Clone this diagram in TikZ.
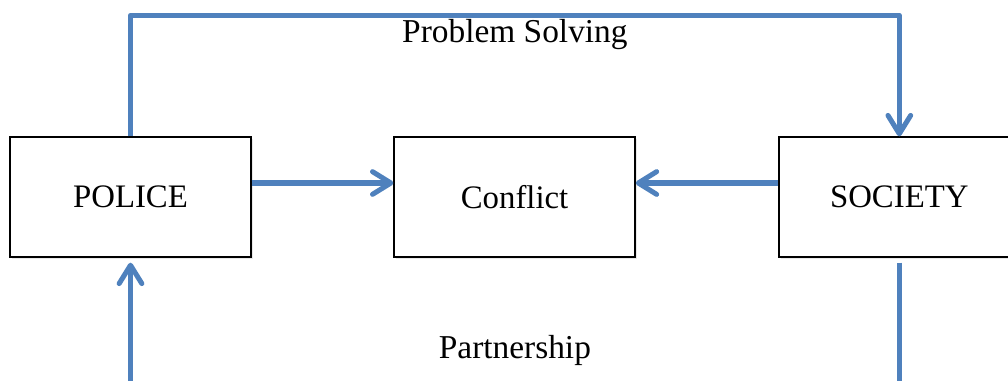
\documentclass[tikz,border=0pt]{standalone}
\usepackage{fontspec}
\setmainfont{Liberation Serif}
\usetikzlibrary{positioning,arrows.meta,shadows}
\definecolor{linkblue}{RGB}{79,129,189}
\tikzstyle{block} = [rectangle, draw, fill=white, line width=1.2pt,
    minimum width=7.23cm, minimum height=3.6cm, font=\fontsize{28}{33}\selectfont,
    drop shadow={opacity=0.18, shadow xshift=0.6mm, shadow yshift=-0.6mm}]
\tikzstyle{link} = [draw=linkblue, line width=4.3pt, line join=round]
\tikzstyle{tag} = [font=\fontsize{28.5}{34}\selectfont, inner sep=0pt]

\begin{document}
\begin{tikzpicture}[>={Straight Barb[length=0.55cm,width=0.68cm,round]}]

    \useasboundingbox (0,0) rectangle (30.24,-11.43);
    \clip (0,0) rectangle (30.24,-11.43);

    % Nodes
    \node [block] (police) at (3.915,-5.91) {POLICE};
    \node [block, right=4.25cm of police] (conflict) {Conflict};
    \node [block, right=4.27cm of conflict] (society) {SOCIETY};

    % Connections
    \draw [link,->] (police.north) -- ++(0,3.63)
        -| node[tag, pos=0.25, below=1.5pt] (solving) {Problem Solving} (society.north);
    \draw [link,->] ([yshift=0.42cm]police.east) -- ([yshift=0.42cm]conflict.west);
    \draw [link,->] ([yshift=0.42cm]society.west) -- ([yshift=0.42cm]conflict.east);
    \draw [link,->,shorten <=0.15cm,shorten >=0.15cm] (society.south) -- ++(0,-4.2)
        -| node[tag, pos=0.25, above=0.9cm] (partner) {Partnership} (police.south);

\end{tikzpicture}
\end{document}
